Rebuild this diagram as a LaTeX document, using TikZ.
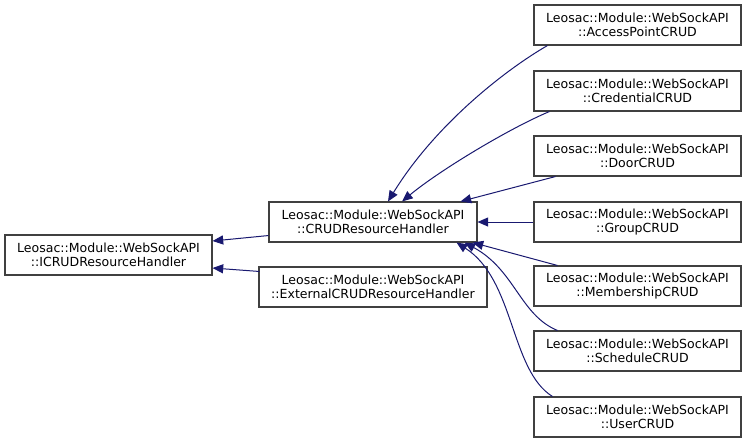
\documentclass[tikz,border=0pt]{standalone}
\usepackage{fontspec}
\setmainfont{DejaVu Sans}
\usetikzlibrary{arrows.meta,calc}
\definecolor{edgeblue}{HTML}{191970}
\definecolor{boxline}{HTML}{404040}
\tikzset{
  cls/.style={draw=boxline, line width=0.8pt, fill=white, rectangle, align=center,
    minimum height=30pt, inner sep=0pt, text=black,
    font=\fontsize{9.4}{10.6}\selectfont},
  inh/.style={draw=edgeblue, line width=0.75pt,
    -{Triangle[length=8pt,width=6.8pt,fill=edgeblue]}}
}
\begin{document}
\begin{tikzpicture}[x=0.75pt,y=-0.75pt]
\useasboundingbox (0,0) rectangle (747,444);
% nodes
\node[cls, minimum width=155.25pt] (icrud) at (108.5,255) {Leosac::Module::WebSockAPI\\::ICRUDResourceHandler};
\node[cls, minimum width=156pt] (crud) at (373,222) {Leosac::Module::WebSockAPI\\::CRUDResourceHandler};
\node[cls, minimum width=171pt] (ext) at (373,287) {Leosac::Module::WebSockAPI\\::ExternalCRUDResourceHandler};
\node[cls, minimum width=155.25pt] (ap) at (637.5,25) {Leosac::Module::WebSockAPI\\::AccessPointCRUD};
\node[cls, minimum width=155.25pt] (cred) at (637.5,91) {Leosac::Module::WebSockAPI\\::CredentialCRUD};
\node[cls, minimum width=155.25pt] (door) at (637.5,156) {Leosac::Module::WebSockAPI\\::DoorCRUD};
\node[cls, minimum width=155.25pt] (group) at (637.5,222) {Leosac::Module::WebSockAPI\\::GroupCRUD};
\node[cls, minimum width=155.25pt] (memb) at (637.5,286) {Leosac::Module::WebSockAPI\\::MembershipCRUD};
\node[cls, minimum width=155.25pt] (sched) at (637.5,351) {Leosac::Module::WebSockAPI\\::ScheduleCRUD};
\node[cls, minimum width=155.25pt] (user) at (637.5,417) {Leosac::Module::WebSockAPI\\::UserCRUD};
% edges
\draw[inh] ($(crud.south west)+(0,-7)$) -- ($(icrud.east)+(0,-14)$);
\draw[inh] ($(ext.north west)+(1,5)$) -- ($(icrud.east)+(0,13)$);
\draw[inh] ($(ap.south west)+(14,0)$) .. controls (505,70) and (435,125) .. ($(crud.north)+(15,0)$);
\draw[inh] ($(cred.south west)+(16,0)$) .. controls (510,128) and (440,170) .. ($(crud.north)+(29,0)$);
\draw[inh] ($(door.south west)+(22,0)$) -- ($(crud.north east)+(-17,0)$);
\draw[inh] (group.west) -- (crud.east);
\draw[inh] ($(memb.north west)+(24,0)$) -- ($(crud.south east)+(-5,0)$);
\draw[inh] ($(sched.north west)+(24,0)$) .. controls (520,315) and (515,270) .. ($(crud.south east)+(-13,0)$);
\draw[inh] ($(user.north west)+(19,0)$) .. controls (510,370) and (515,280) .. ($(crud.south east)+(-21,0)$);
\end{tikzpicture}
\end{document}
